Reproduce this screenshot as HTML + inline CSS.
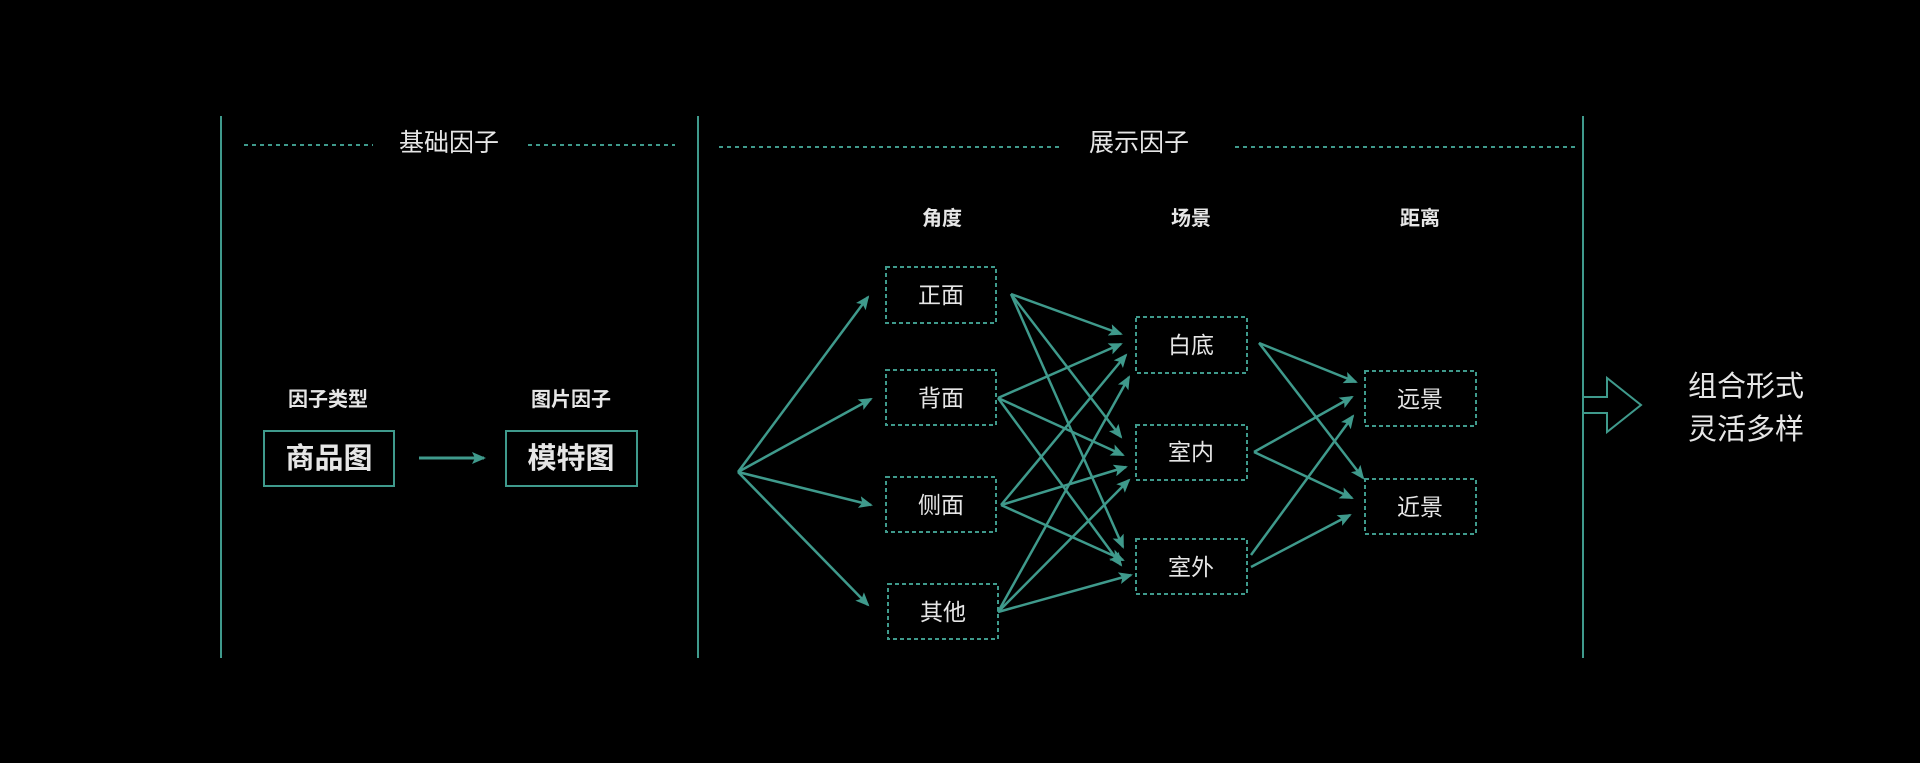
<!DOCTYPE html>
<html><head><meta charset="utf-8"><style>
html,body{margin:0;padding:0;background:#000;}
svg{display:block}
text{font-family:"Liberation Sans","Noto Sans CJK SC",sans-serif;fill:#e6e6e6;text-anchor:middle;dominant-baseline:central}
</style></head><body>
<svg width="1920" height="763" viewBox="0 0 1920 763" xmlns="http://www.w3.org/2000/svg">
<defs>
<marker id="ah" markerWidth="14" markerHeight="14" refX="12" refY="6" orient="auto" markerUnits="userSpaceOnUse" viewBox="0 0 14 12">
<path d="M0,0 L14,6 L0,12 L3,6 z" fill="#3f9a8c"/>
</marker>
</defs>
<g stroke="#3f9a8c" stroke-width="2" fill="none">
<line x1="221" y1="116" x2="221" y2="658"/>
<line x1="698" y1="116" x2="698" y2="658"/>
<line x1="1583" y1="116" x2="1583" y2="658"/>
</g>
<g stroke="#3f9a8c" stroke-width="2" stroke-dasharray="4,4">
<line x1="244" y1="145" x2="373" y2="145"/>
<line x1="528" y1="145" x2="675" y2="145"/>
<line x1="719" y1="147" x2="1059" y2="147"/>
<line x1="1235" y1="147" x2="1576" y2="147"/>
</g>
<text x="449" y="143" font-size="25" fill="#ddd">基础因子</text>
<text x="1139" y="143" font-size="25" fill="#ddd">展示因子</text>
<text x="328" y="400" font-size="20" font-weight="bold" fill="#fff">因子类型</text>
<text x="571" y="400" font-size="20" font-weight="bold" fill="#fff">图片因子</text>
<rect x="264" y="431" width="130" height="55" fill="none" stroke="#3f9a8c" stroke-width="2"/>
<rect x="506" y="431" width="131" height="55" fill="none" stroke="#3f9a8c" stroke-width="2"/>
<text x="329" y="459" font-size="29" font-weight="bold" fill="#fff">商品图</text>
<text x="571" y="459" font-size="29" font-weight="bold" fill="#fff">模特图</text>
<line x1="419" y1="458" x2="484" y2="458" stroke="#3f9a8c" stroke-width="3" marker-end="url(#ah)"/>

<text x="942" y="219" font-size="20" font-weight="bold" fill="#fff">角度</text>
<text x="1191" y="219" font-size="20" font-weight="bold" fill="#fff">场景</text>
<text x="1420" y="219" font-size="20" font-weight="bold" fill="#fff">距离</text>

<g fill="none" stroke="#3f9a8c" stroke-width="2" stroke-dasharray="4,3">
<rect x="886" y="267" width="110" height="56"/>
<rect x="886" y="370" width="110" height="55"/>
<rect x="886" y="477" width="110" height="55"/>
<rect x="888" y="584" width="110" height="55"/>
<rect x="1136" y="317" width="111" height="56"/>
<rect x="1136" y="425" width="111" height="55"/>
<rect x="1136" y="539" width="111" height="55"/>
<rect x="1365" y="371" width="111" height="55"/>
<rect x="1365" y="479" width="111" height="55"/>
</g>
<g font-size="23" fill="#ddd">
<text x="941" y="295">正面</text>
<text x="941" y="398">背面</text>
<text x="941" y="505">侧面</text>
<text x="943" y="612">其他</text>
<text x="1191" y="345">白底</text>
<text x="1191" y="452">室内</text>
<text x="1191" y="567">室外</text>
<text x="1420" y="399">远景</text>
<text x="1420" y="507">近景</text>
</g>
<g stroke="#3f9a8c" stroke-width="2.5" marker-end="url(#ah)">
<line x1="738" y1="472" x2="868" y2="297"/>
<line x1="738" y1="472" x2="871" y2="399"/>
<line x1="738" y1="472" x2="871" y2="505"/>
<line x1="738" y1="472" x2="868" y2="605"/>
<line x1="1011" y1="294" x2="1121" y2="334"/>
<line x1="1011" y1="294" x2="1121" y2="437"/>
<line x1="1011" y1="294" x2="1123" y2="547"/>
<line x1="998" y1="398" x2="1121" y2="344"/>
<line x1="998" y1="398" x2="1123" y2="455"/>
<line x1="998" y1="398" x2="1121" y2="565"/>
<line x1="1001" y1="505" x2="1126" y2="355"/>
<line x1="1001" y1="505" x2="1126" y2="467"/>
<line x1="1001" y1="505" x2="1123" y2="560"/>
<line x1="998" y1="612" x2="1129" y2="377"/>
<line x1="998" y1="612" x2="1129" y2="480"/>
<line x1="998" y1="612" x2="1131" y2="575"/>
<line x1="1259" y1="343" x2="1356" y2="382"/>
<line x1="1259" y1="343" x2="1363" y2="478"/>
<line x1="1254" y1="452" x2="1352" y2="397"/>
<line x1="1254" y1="452" x2="1352" y2="498"/>
<line x1="1251" y1="555" x2="1353" y2="416"/>
<line x1="1251" y1="567" x2="1350" y2="515"/>
</g>
<path d="M1583,397 L1607,397 L1607,378 L1641,405 L1607,432 L1607,413 L1583,413" fill="none" stroke="#3f9a8c" stroke-width="2"/>
<text x="1746" y="387" font-size="29" fill="#e6e6e6">组合形式</text>
<text x="1746" y="430" font-size="29" fill="#e6e6e6">灵活多样</text>
</svg>
</body></html>
